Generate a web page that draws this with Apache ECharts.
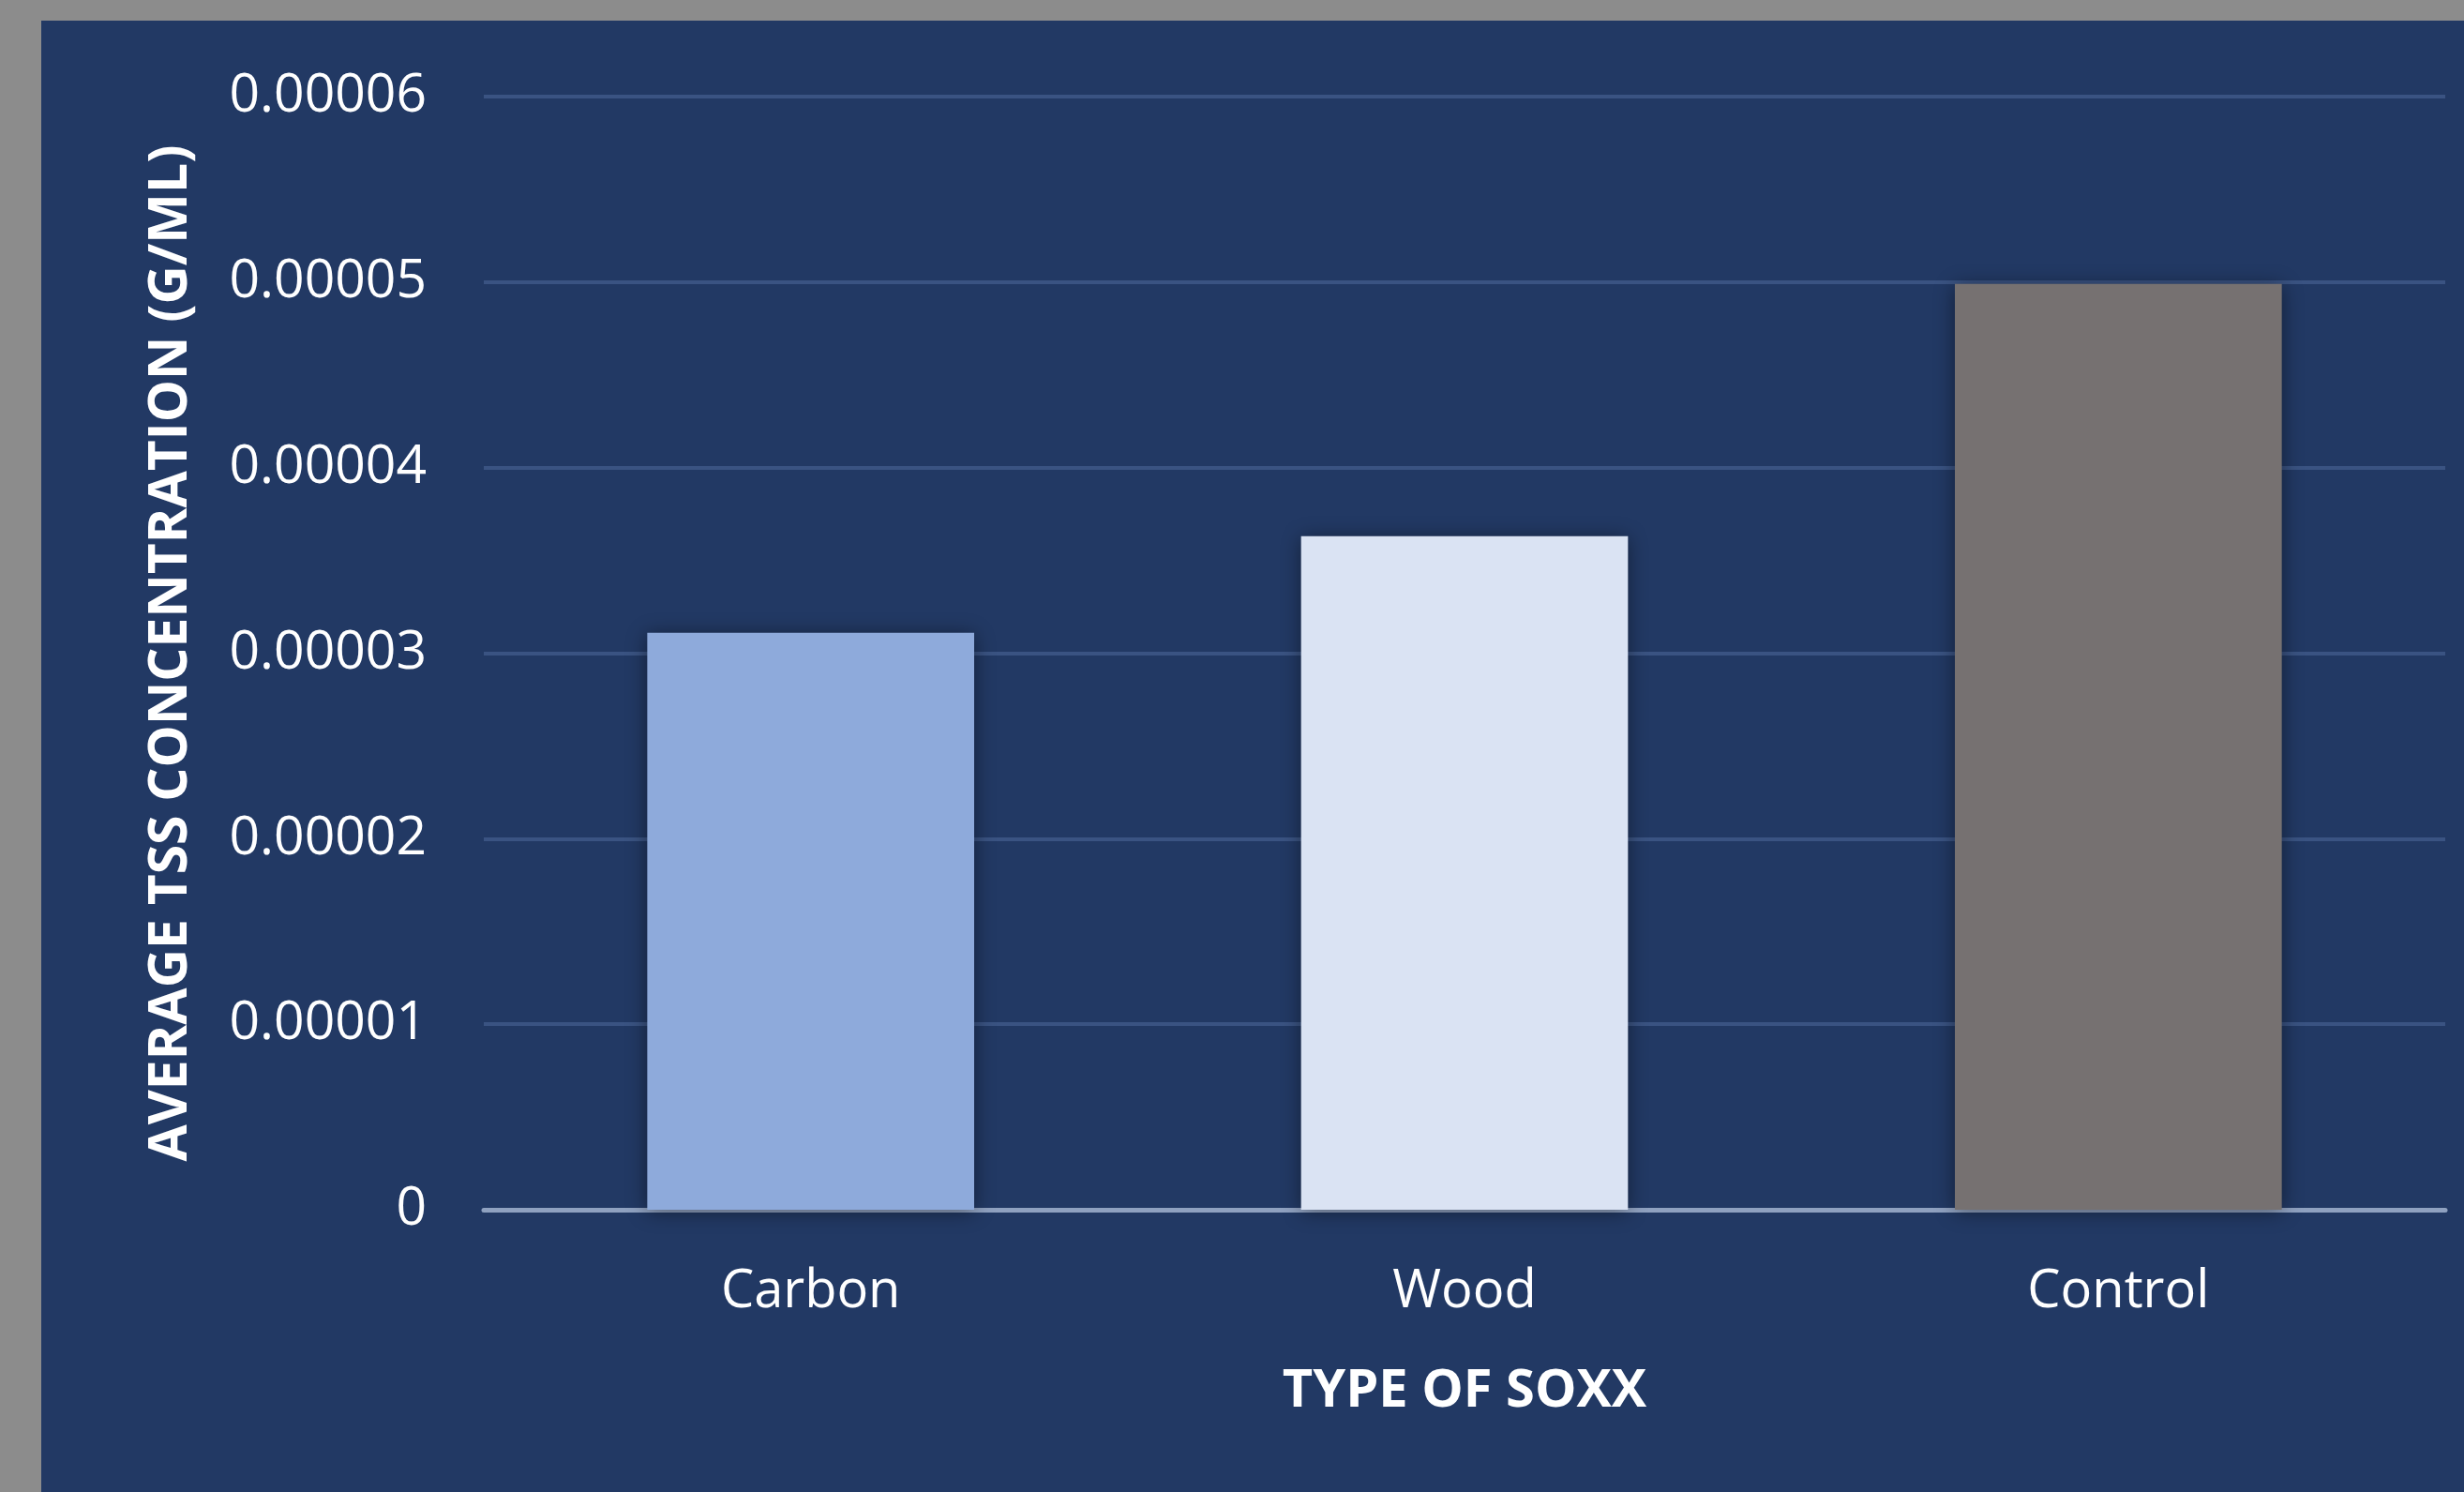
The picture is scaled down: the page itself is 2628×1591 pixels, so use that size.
<!DOCTYPE html>
<html>
<head>
<meta charset="utf-8">
<script src="https://cdn.jsdelivr.net/npm/echarts@6/dist/echarts.min.js"></script>
<style>
  html, body { margin: 0; padding: 0; background: #8c8c8c; }
  #chart { position: absolute; left: 44px; top: 22px; width: 2584px; height: 1569px; }
</style>
</head>
<body>
<div id="chart"></div>
<script>
// soxx types and their average TSS concentration (g/mL)
var soxxTypes = ['Carbon', 'Wood', 'Control'];
var avgTss = [0.0000311, 0.0000363, 0.0000499];
var barColors = ['#8eaadb', '#dae3f3', '#767171'];

var chart = echarts.init(document.getElementById('chart'));

var option = {
	backgroundColor : '#223964',
	textStyle : {
		fontFamily : 'Open Sans'
	},
	grid : {
		left : 472,
		right : 20,
		top : 81,
		bottom : 301
	},
	xAxis : {
		type : 'category',
		data : soxxTypes,
		name : 'TYPE OF SOXX',
		nameLocation : 'middle',
		nameGap : 166,
		nameTextStyle : {
			color : '#ffffff',
			fontSize : 56,
			fontWeight : 'bold',
			verticalAlign : 'top'
		},
		axisLine : {
			lineStyle : { color : '#8fa1c0', width : 5 }
		},
		axisTick : { show : false },
		axisLabel : {
			color : '#ffffff',
			fontSize : 56,
			margin : 60
		}
	},
	yAxis : {
		type : 'value',
		min : 0,
		max : 0.00006,
		interval : 0.00001,
		name : 'AVERAGE TSS CONCENTRATION (G/ML)',
		nameLocation : 'middle',
		nameGap : 333,
		nameTextStyle : {
			color : '#ffffff',
			fontSize : 57,
			fontWeight : 'bold',
			verticalAlign : 'middle'
		},
		axisLine : { show : false },
		axisTick : { show : false },
		splitLine : {
			lineStyle : { color : '#3a5382', width : 4 }
		},
		axisLabel : {
			color : '#ffffff',
			fontSize : 57,
			margin : 61,
			formatter : function(v) {
				return v === 0 ? '0' : v.toFixed(5);
			}
		}
	},
	series : [ {
		type : 'bar',
		barWidth : '50%',
		data : avgTss.map(function(v, i) {
			return {
				value : v,
				itemStyle : { color : barColors[i] }
			};
		}),
		itemStyle : {
			shadowBlur : 20,
			shadowColor : 'rgba(0, 0, 0, 0.45)',
			shadowOffsetY : 2
		}
	} ]
};

chart.setOption(option);
</script>
</body>
</html>
